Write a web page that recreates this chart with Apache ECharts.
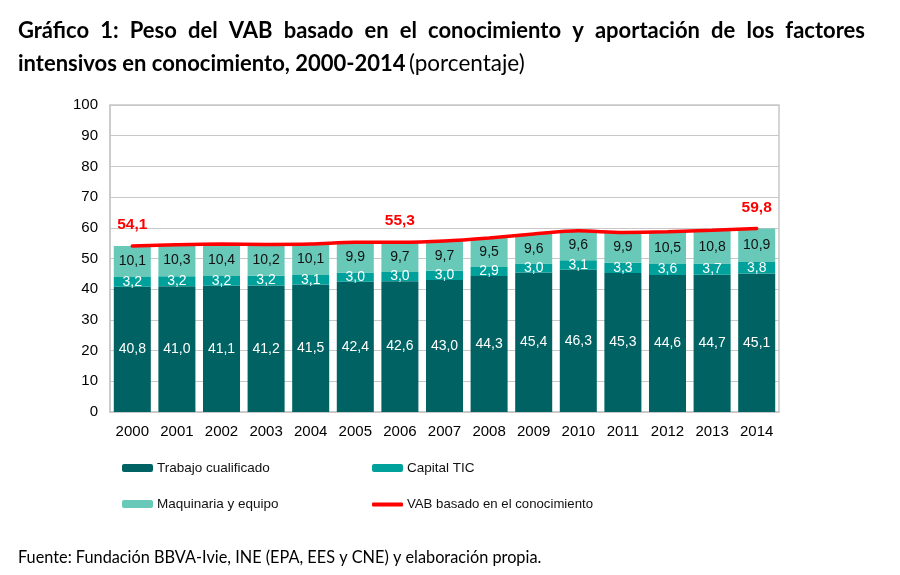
<!DOCTYPE html>
<html><head><meta charset="utf-8">
<script src="https://cdn.jsdelivr.net/npm/echarts@6/dist/echarts.min.js"></script>
<style>html,body{margin:0;padding:0;background:#fff}#c{width:900px;height:575px}</style>
</head><body><div id="c"></div>
<script>
const years = ['2000','2001','2002','2003','2004','2005','2006','2007','2008','2009','2010','2011','2012','2013','2014'];
const trabajo = [40.8,41.0,41.1,41.2,41.5,42.4,42.6,43.0,44.3,45.4,46.3,45.3,44.6,44.7,45.1];
const capitalTIC = [3.2,3.2,3.2,3.2,3.1,3.0,3.0,3.0,2.9,3.0,3.1,3.3,3.6,3.7,3.8];
const maquinaria = [10.1,10.3,10.4,10.2,10.1,9.9,9.7,9.7,9.5,9.6,9.6,9.9,10.5,10.8,10.9];
const vab = [54.1,54.5,54.7,54.6,54.7,55.3,55.3,55.7,56.7,58.0,59.0,58.5,58.7,59.2,59.8];
const vabLabelYears = ['2000','2006','2014'];
const yTicks = [0,10,20,30,40,50,60,70,80,90,100];
const titleLine1 = 'Gráfico 1: Peso del VAB basado en el conocimiento y aportación de los factores';
const titleLine2Bold = 'intensivos en conocimiento, 2000-2014';
const titleLine2Normal = '(porcentaje)';
const sourceText = 'Fuente: Fundación BBVA-Ivie, INE (EPA, EES y CNE) y elaboración propia.';

const fmt = v => v.toFixed(1).replace('.', ',');
const TF = 'Lato, "Open Sans", sans-serif';
const boldFont = 'bold 22px ' + TF;
// justify first title line to a target width
const cv = document.createElement('canvas').getContext('2d');
cv.font = boldFont;
const words = titleLine1.split(' ');
const wordsW = words.reduce((a,w)=>a+cv.measureText(w).width,0);
const targetW = 847;
const gapW = (targetW - wordsW) / (words.length - 1);
const line1Rich = words.map(w=>'{b|'+w+'}').join('{s|}');

const chart = echarts.init(document.getElementById('c'));
const AX = 'Liberation Sans, Arial, sans-serif';
chart.setOption({
  animation:false,
  backgroundColor:'#fff',
  graphic:[
    {type:'text', left:18, top:20, style:{rich:{b:{font:boldFont, fill:'#000'}, s:{width:gapW, font:boldFont}}, text:line1Rich}},
    {type:'text', left:18, top:52, style:{rich:{b:{font:boldFont, fill:'#000'}, n:{font:'22.5px '+TF, fill:'#000'}}, text:'{b|'+titleLine2Bold+'} {n|'+titleLine2Normal+'}'}},
    {type:'text', left:18, top:550, style:{text:sourceText, font:'16.3px '+TF, fill:'#000'}}
  ],
  grid:{left:110, right:121, top:105, bottom:163, show:true, borderColor:'#c8c8c8', borderWidth:1.5},
  legend:[
    {orient:'vertical', left:122, top:461, padding:0, itemWidth:31, itemHeight:8, itemGap:22, data:['Trabajo cualificado','Maquinaria y equipo'], textStyle:{fontFamily:AX, fontSize:13.5, color:'#111', padding:[0,0,0,-1]}},
    {orient:'vertical', left:372, top:461, padding:0, itemWidth:31, itemHeight:8, data:['Capital TIC'], textStyle:{fontFamily:AX, fontSize:13.5, color:'#111', padding:[0,0,0,-1]}},
    {orient:'vertical', left:372, top:498, padding:0, itemWidth:31, itemHeight:4, icon:'roundRect', data:['VAB basado en el conocimiento'], textStyle:{fontFamily:AX, fontSize:13.2, color:'#111', padding:[0,0,0,-1]}}
  ],
  xAxis:{type:'category', data:years, axisTick:{show:false}, axisLine:{lineStyle:{color:'#c8c8c8', width:1.5}},
    axisLabel:{fontFamily:AX, fontSize:15, color:'#000', margin:12}},
  yAxis:{type:'value', min:0, max:100, interval:10, axisLine:{show:true, lineStyle:{color:'#c8c8c8', width:1.5}}, axisTick:{show:false},
    splitLine:{lineStyle:{color:'#c8c8c8', width:1.2}},
    axisLabel:{fontFamily:AX, fontSize:15, color:'#000', margin:12, formatter:v=>yTicks.includes(v)?String(v):''}},
  series:[
    {name:'Trabajo cualificado', type:'bar', stack:'t', data:trabajo, barCategoryGap:'17%', itemStyle:{color:'#006262'},
      label:{show:true, position:'inside', color:'#fff', fontFamily:AX, fontSize:14, formatter:p=>fmt(p.value)}},
    {name:'Capital TIC', type:'bar', stack:'t', data:capitalTIC, itemStyle:{color:'#00A19B'},
      label:{show:true, position:'inside', color:'#fff', fontFamily:AX, fontSize:14, formatter:p=>fmt(p.value)}},
    {name:'Maquinaria y equipo', type:'bar', stack:'t', data:maquinaria, itemStyle:{color:'#68C9B9'},
      label:{show:true, position:'inside', color:'#111', fontFamily:AX, fontSize:14, formatter:p=>fmt(p.value)}},
    {name:'VAB basado en el conocimiento', type:'line', data:vab, smooth:0.3, showSymbol:true, symbol:'circle', symbolSize:0.1,
      lineStyle:{color:'#FF0000', width:3.5, cap:'round'}, itemStyle:{color:'#FF0000'},
      label:{show:true, position:'top', distance:13, color:'#FF0000', fontWeight:'bold', fontFamily:AX, fontSize:15.5,
        formatter:p=>vabLabelYears.includes(p.name)?fmt(p.value):''},
      labelLayout:{hideOverlap:false}}
  ]
});
</script></body></html>
